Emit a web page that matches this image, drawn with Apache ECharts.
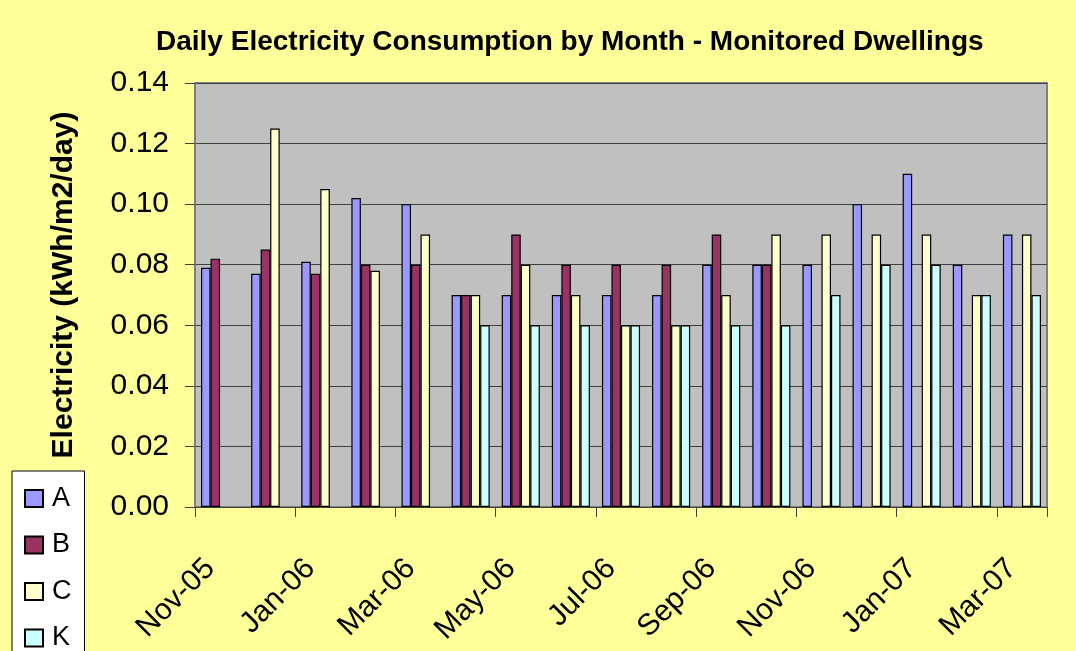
<!DOCTYPE html>
<html>
<head>
<meta charset="utf-8">
<title>Daily Electricity Consumption by Month</title>
<script src="https://cdn.jsdelivr.net/npm/echarts@6/dist/echarts.min.js"></script>
<style>
  html, body { margin: 0; padding: 0; background: #FFFF99; }
  #chart { width: 1076px; height: 651px; }
</style>
</head>
<body>
<div id="chart"></div>
<script>
// Monthly categories (Nov 2005 – Mar 2007)
const months = ['Nov-05', 'Dec-05', 'Jan-06', 'Feb-06', 'Mar-06', 'Apr-06', 'May-06', 'Jun-06',
  'Jul-06', 'Aug-06', 'Sep-06', 'Oct-06', 'Nov-06', 'Dec-06', 'Jan-07', 'Feb-07', 'Mar-07'];

// Daily electricity use per dwelling, kWh/m2/day (null = no reading that month)
const dwellingA = [0.079, 0.077, 0.081, 0.102, 0.100, 0.07, 0.07, 0.07, 0.07, 0.07, 0.08, 0.08, 0.08, 0.10, 0.11, 0.08, 0.09];
const dwellingB = [0.082, 0.085, 0.077, 0.080, 0.080, 0.07, 0.09, 0.08, 0.08, 0.08, 0.09, 0.08, null, null, null, null, null];
const dwellingC = [null, 0.125, 0.105, 0.078, 0.090, 0.07, 0.08, 0.07, 0.06, 0.06, 0.07, 0.09, 0.09, 0.09, 0.09, 0.07, 0.09];
const dwellingK = [null, null, null, null, null, 0.06, 0.06, 0.06, 0.06, 0.06, 0.06, 0.06, 0.07, 0.08, 0.08, 0.07, 0.07];

// Value axis range and tick step
const yMin = 0;
const yMax = 0.14;
const yStep = 0.02;

const FONT = "'Liberation Sans', Arial, sans-serif";

const seriesDefs = [
  { name: 'A', data: dwellingA, color: '#9999FF' },
  { name: 'B', data: dwellingB, color: '#993366' },
  { name: 'C', data: dwellingC, color: '#FFFFCC' },
  { name: 'K', data: dwellingK, color: '#CCFFFF' }
];

const chart = echarts.init(document.getElementById('chart'), null, { renderer: 'canvas' });

chart.setOption({
  backgroundColor: '#FFFF99',
  animation: false,
  title: {
    text: 'Daily Electricity Consumption by Month - Monitored Dwellings',
    left: 151,
    top: 23,
    textStyle: { fontFamily: FONT, fontSize: 28, fontWeight: 'bold', color: '#000' }
  },
  legend: {
    orient: 'vertical',
    left: 12,
    top: 471,
    height: 400,
    data: seriesDefs.map(s => s.name),
    icon: 'rect',
    itemWidth: 18,
    itemHeight: 17,
    itemGap: 19.5,
    padding: [14, 13, 10, 12],
    backgroundColor: '#FFFFFF',
    borderColor: '#000000',
    borderWidth: 1,
    borderRadius: 0,
    textStyle: { fontFamily: FONT, fontSize: 27, color: '#000', lineHeight: 27, padding: [0, 0, 0, 4] }
  },
  grid: {
    left: 195,
    right: 29,
    top: 83,
    bottom: 144,
    show: true,
    backgroundColor: '#C0C0C0',
    borderColor: '#808080',
    borderWidth: 2
  },
  xAxis: {
    type: 'category',
    data: months,
    boundaryGap: true,
    axisLine: { show: true, lineStyle: { color: '#404040', width: 1 } },
    axisTick: { show: true, interval: 1, alignWithLabel: false, length: 10, lineStyle: { color: '#404040' } },
    axisLabel: {
      interval: 1,
      rotate: 45,
      margin: 47,
      padding: [0, 14, 12, 0],
      fontFamily: FONT,
      fontSize: 30,
      color: '#000'
    },
    splitLine: { show: false }
  },
  yAxis: {
    type: 'value',
    min: yMin,
    max: yMax,
    interval: yStep,
    name: 'Electricity (kWh/m2/day)',
    nameLocation: 'middle',
    nameGap: 116,
    nameRotate: 90,
    nameTextStyle: {
      fontFamily: FONT, fontSize: 30, fontWeight: 'bold', color: '#000',
      padding: [0, 0, 0, 20]
    },
    axisLine: { show: true, lineStyle: { color: '#808080', width: 1 } },
    axisTick: { show: true, length: 10, lineStyle: { color: '#404040' } },
    axisLabel: {
      margin: 26,
      fontFamily: FONT,
      fontSize: 30,
      color: '#000',
      formatter: v => v.toFixed(2)
    },
    splitLine: { show: true, lineStyle: { color: '#404040', width: 1 } }
  },
  series: seriesDefs.map(s => ({
    name: s.name,
    type: 'bar',
    data: s.data,
    barGap: '0%',
    barCategoryGap: '24%',
    itemStyle: { color: s.color, borderColor: '#000000', borderWidth: 1.2 }
  }))
});
</script>
</body>
</html>
